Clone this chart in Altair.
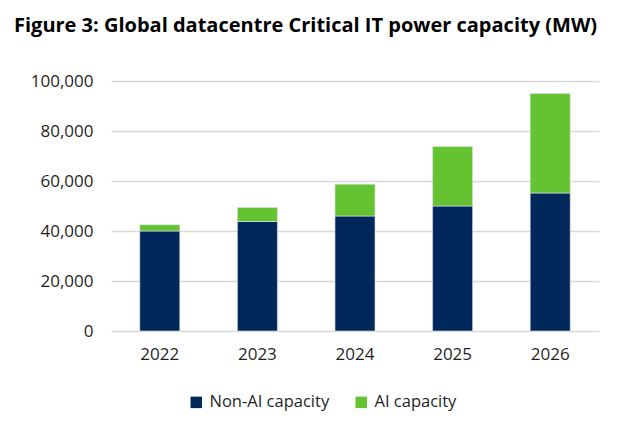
import altair as alt
import pandas as pd

years = ["2022", "2023", "2024", "2025", "2026"]
non_ai = [40000, 43800, 46000, 50000, 55200]
ai = [2500, 5600, 12700, 23800, 39800]
series = ["Non-AI capacity", "AI capacity"]
colors = ["#00285a", "#65c332"]
y_ticks = [0, 20000, 40000, 60000, 80000, 100000]

rows = []
for i, y in enumerate(years):
    rows.append({"year": y, "series": series[0], "value": non_ai[i], "ord": 0})
    rows.append({"year": y, "series": series[1], "value": ai[i], "ord": 1})
df = pd.DataFrame(rows)

FONT = "Open Sans"

chart = alt.Chart(df).mark_bar(stroke="#dde3ea", strokeWidth=0.6).encode(
    x=alt.X("year:N", title=None,
            scale=alt.Scale(paddingInner=0.59, paddingOuter=0.295),
            axis=alt.Axis(labelAngle=0, ticks=False, domain=False, grid=False,
                          labelPadding=15, labelFontSize=17, labelFont=FONT,
                          labelColor="#1f1f1f")),
    y=alt.Y("value:Q", title=None, stack="zero",
            scale=alt.Scale(domain=[0, 100000], nice=False),
            axis=alt.Axis(values=y_ticks, format=",d", ticks=False, domain=False,
                          labelPadding=18, labelFontSize=17, labelFont=FONT,
                          labelColor="#1f1f1f", gridColor="#d9d9d9",
                          gridWidth=1.3)),
    color=alt.Color("series:N", title=None,
                    scale=alt.Scale(domain=series, range=colors),
                    legend=alt.Legend(orient="none", direction="horizontal",
                                      legendX=77, legendY=313,
                                      symbolType="square", symbolSize=132,
                                      symbolStrokeWidth=0, labelFontSize=16.5,
                                      labelFont=FONT, labelColor="#1f1f1f",
                                      labelOffset=5, columnPadding=23,
                                      padding=0)),
    order=alt.Order("ord:Q", sort="ascending"),
).properties(
    width=488,
    height=250,
    title=alt.TitleParams(
        "Figure 3: Global datacentre Critical IT power capacity (MW)",
        anchor="start", frame="group", dx=-97, offset=20,
        font=FONT, fontSize=20, fontWeight="bold", color="#000000",
        baseline="alphabetic"),
    autosize=alt.AutoSizeParams(type="none"),
    padding={"left": 103, "top": 73, "right": 12, "bottom": 90},
).configure_view(stroke=None)

chart.save("out.html", embed_options={"renderer": "svg", "actions": False})
